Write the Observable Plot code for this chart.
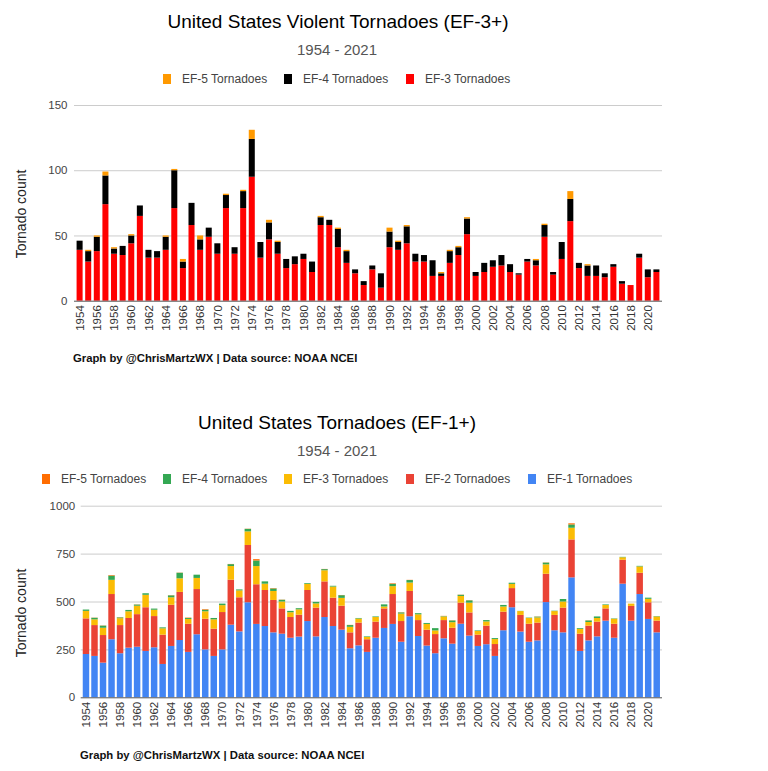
<!DOCTYPE html>
<html>
<head>
<meta charset="utf-8">
<script src="https://cdn.jsdelivr.net/npm/d3@7"></script>
<script src="https://cdn.jsdelivr.net/npm/@observablehq/plot@0.6"></script>
<style>
  html, body { margin: 0; padding: 0; background: #fff; }
  #page { position: relative; width: 768px; height: 771px; overflow: hidden; font-family: "Liberation Sans", Arial, sans-serif; }
  .abs { position: absolute; white-space: nowrap; }
  .title { font-size: 19px; color: #000; transform: translate(-50%, -50%); }
  .sub { font-size: 15px; color: #555; transform: translate(-50%, -50%); }
  .leg { font-size: 12px; color: #444; transform: translateY(-50%); display: flex; align-items: center; }
  .leg span.sw { display: inline-block; width: 8px; height: 10px; margin-right: 11px; }
  .ylab { font-size: 14px; color: #222; transform: translate(-50%, -50%) rotate(-90deg); }
  .foot { font-size: 11.3px; font-weight: bold; color: #111; transform: translateY(-50%); }
  .chart { position: absolute; left: 0; }
</style>
</head>
<body>
<div id="page"></div>
<script>
const years = d3.range(1954, 2022);

// Violent tornadoes (top chart) and EF-3/4/5 counts (shared by bottom chart)
const ef3 = [39,30,38,74,36,35,44,65,33,33,39,71,25,58,39,49,36,71,36,71,95,33,47,36,25,28,32,22,58,58,41,29,21,12,24,10,41,39,44,30,30,19,19,29,35,51,19,22,26,27,22,20,30,27,49,20,32,61,25,19,19,18,26,13,12,33,18,22];
const ef4 = [7,8,11,22,4,7,6,8,6,5,10,29,5,17,8,7,8,10,5,13,29,12,13,9,7,6,4,8,6,4,14,9,3,3,3,11,12,6,13,6,5,12,2,9,6,12,3,7,5,8,6,1,2,4,9,2,13,17,4,8,8,3,2,2,0,3,6,2];
const ef5 = [0,1,1,3,1,0,1,0,0,0,1,1,2,0,3,0,0,1,0,1,7,0,2,1,0,0,0,0,1,0,1,1,0,0,0,0,3,1,1,0,0,0,1,1,1,1,0,0,0,0,0,0,0,1,1,0,0,6,0,1,0,0,0,0,0,0,0,0];
// EF-1 and EF-2 counts (bottom chart)
const ef1 = [226,216,181,303,230,259,264,242,261,174,268,299,237,329,250,216,250,379,344,496,383,372,339,332,311,317,398,318,419,372,353,256,271,237,311,362,383,290,423,320,270,230,308,280,384,322,268,277,216,350,470,343,290,297,497,350,339,626,242,297,318,400,311,593,400,539,409,339];
const ef2 = [186,161,144,236,147,155,170,228,163,153,215,251,147,236,160,142,195,235,178,299,207,188,169,132,108,114,162,150,186,148,125,83,119,66,84,102,156,108,132,83,83,100,95,83,110,121,59,97,62,97,100,87,94,93,148,80,129,198,90,77,77,64,73,125,77,111,87,61];

const topSeries = ["EF-3 Tornadoes", "EF-4 Tornadoes", "EF-5 Tornadoes"];
const topColors = ["#ff0000", "#000000", "#ff9900"];
const botSeries = ["EF-1 Tornadoes", "EF-2 Tornadoes", "EF-3 Tornadoes", "EF-4 Tornadoes", "EF-5 Tornadoes"];
const botColors = ["#4285f4", "#ea4335", "#fbbc04", "#34a853", "#ff6d01"];
const topTicks = [0, 50, 100, 150];
const botTicks = [0, 250, 500, 750, 1000];

const topArrays = [ef3, ef4, ef5];
const botArrays = [ef1, ef2, ef3, ef4, ef5];
const topData = years.flatMap((y, i) => topSeries.map((s, k) => ({year: y, series: s, value: topArrays[k][i]})));
const botData = years.flatMap((y, i) => botSeries.map((s, k) => ({year: y, series: s, value: botArrays[k][i]})));

const page = document.getElementById("page");
function addDiv(cls, html, left, top) {
  const d = document.createElement("div");
  d.className = "abs " + cls;
  d.style.left = left + "px";
  d.style.top = top + "px";
  d.innerHTML = html;
  page.appendChild(d);
  return d;
}
function legendItem(label, color, left, top) {
  addDiv("leg", `<span class="sw" style="background:${color}"></span>${label}`, left, top);
}

const font = {fontSize: "11.5px", fontFamily: "'Liberation Sans', Arial, sans-serif", color: "#444", background: "transparent"};

function makeChart(data, series, colors, ticks, ymax, opts) {
  return Plot.plot({
    width: 768,
    height: opts.height,
    marginTop: opts.mt,
    marginBottom: opts.mb,
    marginLeft: opts.ml,
    marginRight: opts.mr,
    style: font,
    x: {type: "band", domain: years, padding: opts.pad},
    y: {domain: [0, ymax]},
    color: {domain: series, range: colors},
    marks: [
      Plot.gridY(ticks.slice(1), {stroke: "#cccccc", strokeOpacity: 1}),
      Plot.barY(data, {x: "year", y: "value", fill: "series"}),
      Plot.ruleY([0], {stroke: "#555"}),
      Plot.axisY({ticks: ticks, tickSize: 0, tickPadding: opts.tp, label: null, fill: "#444",
                  tickFormat: d => String(d)}),
      Plot.axisX({tickSize: 0, tickPadding: 4, tickRotate: -90, label: null, fill: "#333",
                  tickFormat: d => (d % 2 ? "" : String(d))})
    ]
  });
}

// Top chart text
addDiv("title", "United States Violent Tornadoes (EF-3+)", 338, 22);
addDiv("sub", "1954 - 2021", 337, 49);
legendItem("EF-5 Tornadoes", topColors[2], 163, 79);
legendItem("EF-4 Tornadoes", topColors[1], 284, 79);
legendItem("EF-3 Tornadoes", topColors[0], 406, 79);
addDiv("ylab", "Tornado count", 21, 214);

const c1 = makeChart(topData, topSeries, topColors, topTicks, 150, {height: 250, mt: 10, mb: 44.3, ml: 74, mr: 106, pad: 0.3, tp: 7});
c1.classList.add("chart");
c1.style.top = "95px";
page.appendChild(c1);
addDiv("foot", "Graph by @ChrisMartzWX | Data source: NOAA NCEI", 73, 358);

// Bottom chart text
addDiv("title", "United States Tornadoes (EF-1+)", 337, 423);
addDiv("sub", "1954 - 2021", 337, 450);
legendItem("EF-5 Tornadoes", botColors[4], 42, 479);
legendItem("EF-4 Tornadoes", botColors[3], 163, 479);
legendItem("EF-3 Tornadoes", botColors[2], 284, 479);
legendItem("EF-2 Tornadoes", botColors[1], 406, 479);
legendItem("EF-1 Tornadoes", botColors[0], 528, 479);
addDiv("ylab", "Tornado count", 21, 613);

const c2 = makeChart(botData, botSeries, botColors, botTicks, 1000, {height: 245, mt: 10.7, mb: 42.7, ml: 80.7, mr: 106, pad: 0.24, tp: 6});
c2.classList.add("chart");
c2.style.top = "495px";
page.appendChild(c2);
addDiv("foot", "Graph by @ChrisMartzWX | Data source: NOAA NCEI", 80, 755);
</script>
</body>
</html>
